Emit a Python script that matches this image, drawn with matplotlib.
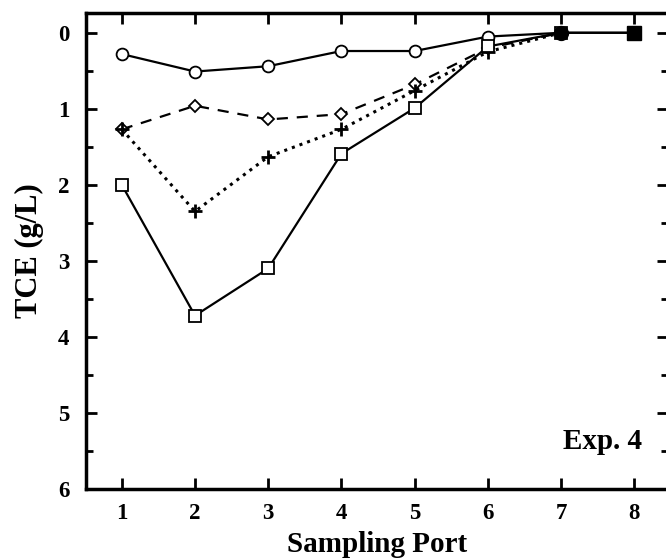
import matplotlib.pyplot as plt
from matplotlib.ticker import MultipleLocator

plt.rcParams['font.family'] = ['Liberation Serif', 'DejaVu Serif']
plt.rcParams['font.weight'] = 'bold'

ports = [1, 2, 3, 4, 5, 6, 7, 8]
circles = [0.28, 0.51, 0.44, 0.24, 0.24, 0.05, 0.0, 0.0]
diamonds = [1.27, 0.96, 1.14, 1.07, 0.68, 0.20, 0.0]
pluses = [1.27, 2.35, 1.63, 1.27, 0.76, 0.25, 0.0]
squares = [2.0, 3.72, 3.1, 1.59, 0.99, 0.18, 0.0, 0.0]

fig = plt.figure(figsize=(6.66, 5.58), dpi=100)
ax = fig.add_axes([0.129, 0.1237, 0.874, 0.853])

lw = 1.6
ax.plot(ports[:len(circles)], circles, '-', color='black', lw=lw,
        marker='o', ms=8.5, mfc='white', mec='black', mew=1.3)
ax.plot(ports[:len(diamonds)], diamonds, '--', color='black', lw=lw,
        dashes=(5, 4), marker='D', ms=6, mfc='white', mec='black', mew=1.3)
ax.plot(ports[:len(pluses)], pluses, ':', color='black', lw=2.2,
        marker='+', ms=10, mec='black', mew=2)
ax.plot(ports[:len(squares)], squares, '-', color='black', lw=lw,
        marker='s', ms=8.5, mfc='white', mec='black', mew=1.3)
# overlapping points at the outlet look filled in the original
ax.plot(ports[6:7], circles[6:7], 'o', color='black', ms=10)
ax.plot(ports[7:8], squares[7:8], 's', color='black', ms=9.5)

ax.set_xlim(0.51, 8.46)
ax.set_ylim(6, -0.26)
ax.set_xticks(ports)
ax.set_yticks(range(0, 7))
ax.yaxis.set_minor_locator(MultipleLocator(0.5))

for s in ax.spines.values():
    s.set_linewidth(2.5)

ax.tick_params(axis='both', which='major', direction='in', length=8, width=2,
               labelsize=16.5, pad=10)
ax.tick_params(axis='y', which='major', right=True, labelright=False, pad=12)
ax.tick_params(axis='x', which='major', top=True)
ax.tick_params(axis='y', which='minor', direction='in', length=5, width=2,
               right=True)
for lab in ax.get_xticklabels() + ax.get_yticklabels():
    lab.set_fontweight('bold')

ax.set_xlabel('Sampling Port', fontsize=21, fontweight='bold', labelpad=5)
ax.set_ylabel('TCE (g/L)', fontsize=22, fontweight='bold', labelpad=10)

ax.text(0.955, 0.099, 'Exp. 4', transform=ax.transAxes, ha='right', va='center',
        fontsize=21, fontweight='bold')

fig.savefig('out.png', dpi=100)
